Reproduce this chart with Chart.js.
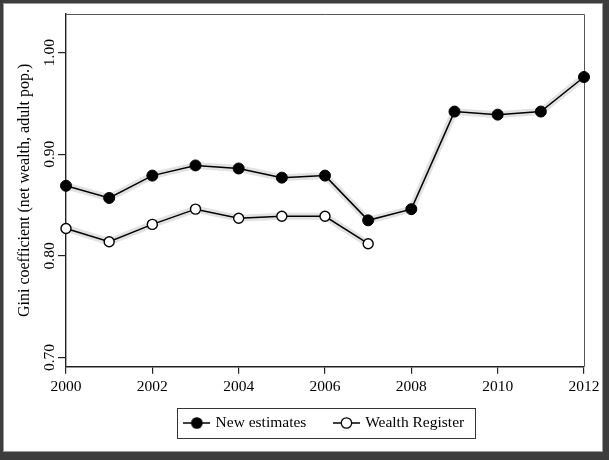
<!DOCTYPE html>
<html>
<head>
<meta charset="utf-8">
<script src="https://cdn.jsdelivr.net/npm/chart.js@4/dist/chart.umd.min.js"></script>
<style>
html, body { margin: 0; padding: 0; background: #fff; }
#wrap { position: relative; width: 610px; height: 460px; }
#myChart { position: absolute; left: 0; top: 0; }
#frame {
    position: absolute; left: 0; top: 0; width: 609px; height: 460px;
    box-sizing: border-box; border-style: solid; border-color: #3d3d3d;
    border-width: 3px 6px 8px 3px;
    box-shadow: inset 1px 1px 0 #9a9a9a, inset -1px -1px 0 #9a9a9a;
    pointer-events: none;
}
</style>
</head>
<body>
<div id="wrap">
<canvas id="myChart" width="610" height="460"></canvas>
<div id="frame"></div>
</div>
<script>
var years = [2000, 2001, 2002, 2003, 2004, 2005, 2006, 2007, 2008, 2009, 2010, 2011, 2012];
var newEstimates = [0.869, 0.857, 0.879, 0.889, 0.886, 0.877, 0.879, 0.835, 0.846, 0.942, 0.939, 0.942, 0.976];
var registerYears = [2000, 2001, 2002, 2003, 2004, 2005, 2006, 2007];
var wealthRegister = [0.827, 0.814, 0.831, 0.846, 0.837, 0.839, 0.839, 0.812];
var xTicks = [2000, 2002, 2004, 2006, 2008, 2010, 2012];
var yTicks = [0.70, 0.80, 0.90, 1.00];
var seriesNames = ['New estimates', 'Wealth Register'];

var serif = 'Liberation Serif';

function toPoints(xs, ys) {
    var pts = [];
    for (var i = 0; i < xs.length; i++) {
        pts.push({x: xs[i], y: ys[i]});
    }
    return pts;
}

// little line-dot-line symbol for the legend
function legendSymbol(fill) {
    var c = document.createElement('canvas');
    c.width = 27;
    c.height = 14;
    var g = c.getContext('2d');
    g.strokeStyle = '#000';
    g.lineWidth = 1.5;
    g.beginPath();
    g.moveTo(0, 7);
    g.lineTo(27, 7);
    g.stroke();
    g.beginPath();
    g.arc(13.5, 7, 5.2, 0, Math.PI * 2);
    g.fillStyle = fill;
    g.fill();
    g.lineWidth = 1.3;
    g.stroke();
    return c;
}
var symbols = [legendSymbol('#000'), legendSymbol('#fff')];

var framePlugin = {
    id: 'framePlugin',
    beforeDatasetsDraw: function(chart) {
        var a = chart.chartArea, c = chart.ctx;
        c.save();
        c.strokeStyle = '#555';
        c.lineWidth = 1;
        c.beginPath();
        c.moveTo(a.left, a.top + 0.5);
        c.lineTo(a.right + 0.5, a.top + 0.5);
        c.lineTo(a.right + 0.5, a.bottom);
        c.stroke();
        c.restore();
    },
    afterDraw: function(chart) {
        var hb = chart.legend.legendHitBoxes;
        if (!hb || !hb.length) return;
        var last = hb[hb.length - 1];
        var x1 = Math.round(hb[0].left - 9) + 0.5;
        var x2 = Math.round(last.left + last.width + 11) + 0.5;
        var y1 = Math.round(hb[0].top - 7.5) + 0.5;
        var y2 = Math.round(hb[0].top + hb[0].height + 7) + 0.5;
        var c = chart.ctx;
        c.save();
        c.strokeStyle = '#333';
        c.lineWidth = 1;
        c.strokeRect(x1, y1, x2 - x1, y2 - y1);
        c.restore();
    }
};

var ctx = document.getElementById('myChart').getContext('2d');
var chart = new Chart(ctx, {
    type: 'line',
    data: {
        datasets: [
            {
                label: seriesNames[0],
                data: toPoints(years, newEstimates),
                borderColor: '#000',
                borderWidth: 1.5,
                pointRadius: 5.5,
                pointBackgroundColor: '#000',
                pointBorderColor: '#000',
                pointBorderWidth: 1,
                clip: false,
                order: 1
            },
            {
                label: seriesNames[1],
                data: toPoints(registerYears, wealthRegister),
                borderColor: '#000',
                borderWidth: 1.5,
                pointRadius: 5,
                pointBackgroundColor: '#fff',
                pointBorderColor: '#000',
                pointBorderWidth: 1.4,
                clip: false,
                order: 1
            },
            {
                label: 'band1',
                data: toPoints(years, newEstimates),
                borderColor: '#e2e2e2',
                borderWidth: 7,
                pointRadius: 0,
                clip: false,
                order: 5
            },
            {
                label: 'band2',
                data: toPoints(registerYears, wealthRegister),
                borderColor: '#e2e2e2',
                borderWidth: 7,
                pointRadius: 0,
                clip: false,
                order: 5
            }
        ]
    },
    options: {
        responsive: false,
        animation: false,
        events: [],
        layout: {
            padding: {top: 14, right: 26, bottom: 19.25, left: 0}
        },
        scales: {
            x: {
                type: 'linear',
                min: 2000,
                max: 2012,
                afterBuildTicks: function(scale) {
                    scale.ticks = xTicks.map(function(v) { return {value: v}; });
                },
                afterFit: function(scale) {
                    scale.height = 19.55;
                    // the legend box overlaps this band, so don't clip the year labels to it
                    scale._computeLabelArea = function() { return undefined; };
                },
                grid: {drawOnChartArea: false, drawTicks: true, tickLength: 7, color: '#222', lineWidth: 1.2},
                border: {display: true, color: '#222', width: 1.4},
                ticks: {
                    color: '#000',
                    font: {family: serif, size: 15.5},
                    padding: 4,
                    maxRotation: 0,
                    callback: function(v) { return String(v); }
                }
            },
            y: {
                min: 0.691,
                max: 1.038,
                afterBuildTicks: function(scale) {
                    scale.ticks = yTicks.map(function(v) { return {value: v}; });
                },
                afterFit: function(scale) {
                    scale.width = 66;
                },
                grid: {drawOnChartArea: false, drawTicks: true, tickLength: 8, color: '#222', lineWidth: 1.2},
                border: {display: true, color: '#222', width: 1.4},
                ticks: {
                    color: '#000',
                    font: {family: serif, size: 15.5},
                    padding: -5,
                    minRotation: 90,
                    maxRotation: 90,
                    crossAlign: 'center',
                    callback: function(v) { return v.toFixed(2); }
                },
                title: {
                    display: true,
                    text: 'Gini coefficient (net wealth, adult pop.)',
                    color: '#000',
                    font: {family: serif, size: 16},
                    padding: {top: 15.5, bottom: 0}
                }
            }
        },
        plugins: {
            tooltip: {enabled: false},
            legend: {
                position: 'bottom',
                fullSize: false,
                labels: {
                    usePointStyle: true,
                    pointStyleWidth: 22,
                    padding: 29,
                    color: '#000',
                    font: {family: serif, size: 15.5},
                    generateLabels: function(chart) {
                        return seriesNames.map(function(name, i) {
                            return {
                                text: name,
                                datasetIndex: i,
                                pointStyle: symbols[i],
                                fillStyle: '#000',
                                strokeStyle: '#000',
                                lineWidth: 0,
                                hidden: false,
                                fontColor: '#000'
                            };
                        });
                    }
                }
            }
        }
    },
    plugins: [framePlugin]
});
</script>
</body>
</html>
